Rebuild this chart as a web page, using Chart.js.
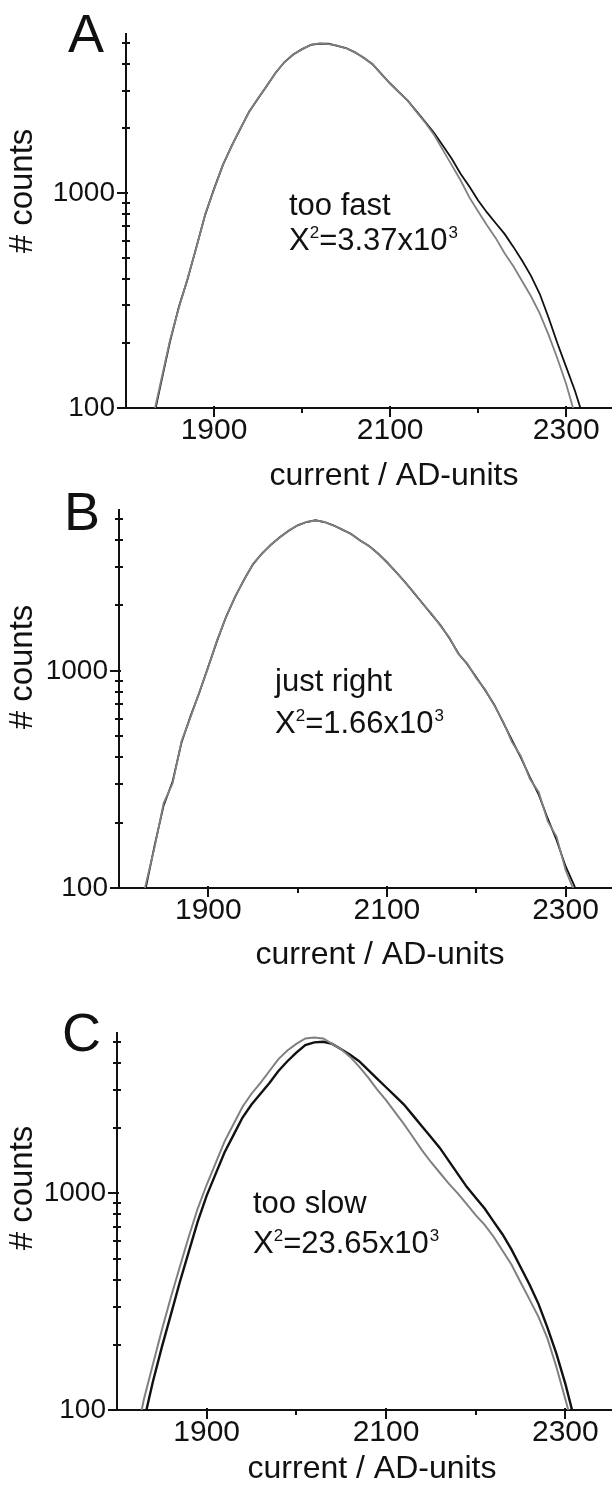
<!DOCTYPE html>
<html>
<head>
<meta charset="utf-8">
<script src="https://cdn.jsdelivr.net/npm/chart.js@4.4.1/dist/chart.umd.min.js"></script>
<style>
  html, body { margin: 0; padding: 0; background: #ffffff; }
  body { width: 612px; height: 1488px; position: relative; overflow: hidden; }
  canvas { position: absolute; left: 0; }
</style>
</head>
<body>
<canvas id="c0"></canvas>
<canvas id="c1"></canvas>
<canvas id="c2"></canvas>
<script>
// ---------------- data ----------------
const xTickValues = [1900, 2100, 2300];
const xMinorValues = [2000, 2200];
const yTickValues = [100, 1000];
const yMinorValues = [200, 300, 400, 500, 600, 700, 800, 900, 2000, 3000, 4000, 5000];

const panelLetters = ['A', 'B', 'C'];
const fitLabels = ['too fast', 'just right', 'too slow'];
const chi2Values = ['3.37', '1.66', '23.65'];
const xAxisTitle = 'current / AD-units';
const yAxisTitle = '# counts';

// Panel A
const currentA = [1830,1840,1850,1860,1870,1880,1890,1900,1910,1920,1930,1940,1950,1960,1970,1980,1990,2000,2010,2020,2030,2040,2050,2060,2070,2080,2090,2100,2110,2120,2130,2140,2150,2160,2170,2180,2190,2200,2210,2220,2230,2240,2250,2260,2270,2280,2290,2300,2310,2320];
const countsA_data = [85,132,204,295,398,562,794,1047,1349,1660,1995,2399,2754,3162,3631,4074,4416,4677,4898,4966,4955,4842,4732,4519,4266,3981,3589,3236,2951,2692,2399,2138,1905,1660,1445,1230,1072,923,813,724,646,562,484,412,339,263,200,155,120,89];
const countsA_fit = [88,135,207,292,402,558,800,1040,1355,1652,2004,2390,2765,3150,3640,4065,4430,4665,4910,4975,4940,4850,4720,4530,4250,3990,3575,3240,2940,2700,2385,2125,1862,1585,1349,1148,955,822,708,617,525,457,389,331,275,219,170,129,93,null];

// Panel B
const currentB = [1820,1830,1840,1850,1860,1870,1880,1890,1900,1910,1920,1930,1940,1950,1960,1970,1980,1990,2000,2010,2020,2030,2040,2050,2060,2070,2080,2090,2100,2110,2120,2130,2140,2150,2160,2170,2180,2190,2200,2210,2220,2230,2240,2250,2260,2270,2280,2290,2300,2310,2320];
const countsB_data = [63,100,158,240,309,468,617,794,1047,1380,1778,2188,2630,3090,3467,3802,4121,4416,4677,4842,4932,4842,4677,4467,4266,3981,3758,3467,3162,2851,2570,2291,2042,1820,1622,1413,1202,1072,933,813,700,580,479,398,324,269,209,166,126,102,71];
const countsB_fit = [66,104,155,246,303,474,610,800,1040,1390,1770,2195,2620,3100,3455,3815,4110,4425,4665,4855,4920,4850,4665,4475,4255,3990,3745,3475,3150,2860,2560,2300,2035,1830,1610,1420,1195,1080,925,820,695,585,470,405,318,276,203,172,121,96,null];

// Panel C
const currentC = [1820,1830,1840,1850,1860,1870,1880,1890,1900,1910,1920,1930,1940,1950,1960,1970,1980,1990,2000,2010,2020,2030,2040,2050,2060,2070,2080,2090,2100,2110,2120,2130,2140,2150,2160,2170,2180,2190,2200,2210,2220,2230,2240,2250,2260,2270,2280,2290,2300,2310,2320];
const countsC_data = [63,89,135,195,275,389,537,741,977,1230,1549,1862,2239,2570,2884,3236,3673,4074,4467,4842,4977,5012,4898,4624,4365,4074,3715,3388,3090,2818,2570,2291,2042,1820,1622,1413,1230,1072,955,851,741,646,550,457,380,309,240,182,132,91,null];
const countsC_fit = [71,112,162,234,331,457,631,851,1096,1380,1738,2089,2512,2884,3236,3673,4169,4571,4898,5188,5248,5188,4898,4624,4266,3846,3428,3020,2692,2371,2089,1820,1585,1396,1245,1109,1000,891,794,716,631,543,468,389,324,269,214,158,112,79,null];

// ---------------- layout / style ----------------
const FONT = '"Liberation Sans", Arial, Helvetica, sans-serif';
const INK = '#111111';
const GREY = '#808080';

const layouts = [
  { canvasTop: 0,   height: 500, left: 126, areaTop: 34, areaBottom: 408, letter: [68, 52],   yTitleY: 191,  xTitle: [394, 485],  note: [289, 215, 250],   widths: [1.8, 1.8] },
  { canvasTop: 480, height: 510, left: 119, areaTop: 30, areaBottom: 408, letter: [64, 530],  yTitleY: 667,  xTitle: [380, 964],  note: [275, 691, 733],   widths: [1.8, 1.8] },
  { canvasTop: 980, height: 508, left: 117, areaTop: 53, areaBottom: 430, letter: [62, 1051], yTitleY: 1188, xTitle: [372, 1478], note: [253, 1213, 1253], widths: [2.4, 2.0] }
];

Chart.defaults.font.family = FONT;
Chart.defaults.color = INK;

const decor = {
  id: 'decor',
  afterDraw(chart, args, opts) {
    const { ctx, chartArea: a, scales: { x, y } } = chart;
    const L = opts.layout;
    const off = L.canvasTop;
    ctx.save();
    // tick marks, placed through the scales
    ctx.strokeStyle = INK;
    ctx.lineWidth = 2;
    ctx.beginPath();
    yTickValues.forEach(v => { const p = Math.round(y.getPixelForValue(v)); ctx.moveTo(a.left - 9, p); ctx.lineTo(a.left + 2, p); });
    yMinorValues.forEach(v => { const p = Math.round(y.getPixelForValue(v)); ctx.moveTo(a.left - 4, p); ctx.lineTo(a.left + 4, p); });
    xTickValues.forEach(v => { const p = Math.round(x.getPixelForValue(v)); ctx.moveTo(p, a.bottom - 2); ctx.lineTo(p, a.bottom + 9); });
    xMinorValues.forEach(v => { const p = Math.round(x.getPixelForValue(v)); ctx.moveTo(p, a.bottom); ctx.lineTo(p, a.bottom + 5); });
    ctx.stroke();

    ctx.fillStyle = INK;
    ctx.textBaseline = 'alphabetic';
    // panel letter
    ctx.textAlign = 'left';
    ctx.font = '54px ' + FONT;
    ctx.fillText(opts.letter, L.letter[0], L.letter[1] - off);
    // y axis title
    ctx.save();
    ctx.translate(23, L.yTitleY - off);
    ctx.rotate(-Math.PI / 2);
    ctx.font = '33px ' + FONT;
    ctx.textAlign = 'center';
    ctx.textBaseline = 'middle';
    ctx.fillText(yAxisTitle, 0, 0);
    ctx.restore();
    // x axis title
    ctx.font = '32px ' + FONT;
    ctx.textAlign = 'center';
    ctx.fillText(xAxisTitle, L.xTitle[0], L.xTitle[1] - off);
    // annotation
    ctx.textAlign = 'left';
    ctx.font = '31px ' + FONT;
    const nx = L.note[0];
    ctx.fillText(opts.fit, nx, L.note[1] - off);
    const b = L.note[2] - off;
    let cx = nx;
    ctx.fillText('X', cx, b); cx += ctx.measureText('X').width;
    ctx.font = '17px ' + FONT;
    ctx.fillText('2', cx, b - 12); cx += ctx.measureText('2').width;
    ctx.font = '31px ' + FONT;
    const s = '=' + opts.chi + 'x10';
    ctx.fillText(s, cx, b); cx += ctx.measureText(s).width;
    ctx.font = '17px ' + FONT;
    ctx.fillText('3', cx + 1, b - 12);
    ctx.restore();
  }
};

function makeChart(i, xs, dataCounts, fitCounts) {
  const L = layouts[i];
  const canvas = document.getElementById('c' + i);
  canvas.style.top = L.canvasTop + 'px';
  canvas.width = 612;
  canvas.height = L.height;
  canvas.style.width = '612px';
  canvas.style.height = L.height + 'px';
  return new Chart(canvas, {
    type: 'line',
    data: {
      datasets: [
        { label: 'fit', data: xs.map((v, k) => ({ x: v, y: fitCounts[k] })), borderColor: GREY, borderWidth: L.widths[1], pointRadius: 0, tension: 0, fill: false },
        { label: 'data', data: xs.map((v, k) => ({ x: v, y: dataCounts[k] })), borderColor: INK, borderWidth: L.widths[0], pointRadius: 0, tension: 0, fill: false }
      ]
    },
    options: {
      responsive: false,
      animation: false,
      devicePixelRatio: 1,
      layout: { padding: { top: L.areaTop, left: 0, right: 0, bottom: 0 } },
      plugins: {
        legend: { display: false },
        tooltip: { enabled: false },
        decor: { layout: L, letter: panelLetters[i], fit: fitLabels[i], chi: chi2Values[i] }
      },
      scales: {
        x: {
          type: 'linear', min: 1800, max: 2352,
          grid: { display: false, drawTicks: false },
          border: { display: true, color: INK, width: 2 },
          afterBuildTicks: s => { s.ticks = xTickValues.map(v => ({ value: v })); },
          afterFit: s => { s.height = L.height - L.areaBottom; },
          ticks: { color: INK, font: { size: 30, lineHeight: 1 }, padding: 8, maxRotation: 0, minRotation: 0, autoSkip: false, callback: v => String(v) }
        },
        y: {
          type: 'logarithmic', min: 100, max: 5500,
          grid: { display: false, drawTicks: false },
          border: { display: true, color: INK, width: 2 },
          afterBuildTicks: s => { s.ticks = yTickValues.map(v => ({ value: v })); },
          afterFit: s => { s.width = L.left; },
          ticks: { color: INK, font: { size: 28, lineHeight: 1 }, padding: 11, autoSkip: false, callback: v => String(v) }
        }
      }
    },
    plugins: [decor]
  });
}

makeChart(0, currentA, countsA_data, countsA_fit);
makeChart(1, currentB, countsB_data, countsB_fit);
makeChart(2, currentC, countsC_data, countsC_fit);
</script>
</body>
</html>
